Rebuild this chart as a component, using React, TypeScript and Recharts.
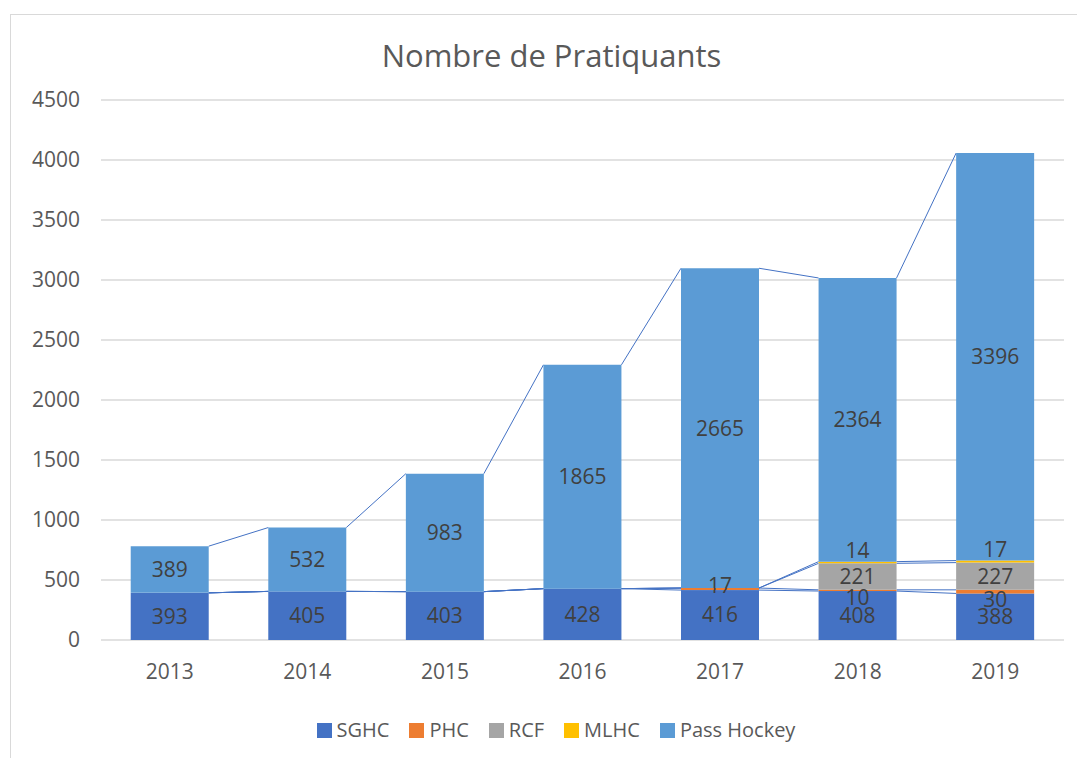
import { BarChart, Bar, XAxis, YAxis, CartesianGrid, LabelList } from 'recharts';

const YEARS = ['2013', '2014', '2015', '2016', '2017', '2018', '2019'];
const SGHC = [393, 405, 403, 428, 416, 408, 388];
const PHC = [0, 0, 0, 0, 17, 10, 30];
const RCF = [0, 0, 0, 0, 0, 221, 227];
const MLHC = [0, 0, 0, 0, 0, 14, 17];
const PASS_HOCKEY = [389, 532, 983, 1865, 2665, 2364, 3396];
const Y_TICKS = [0, 500, 1000, 1500, 2000, 2500, 3000, 3500, 4000, 4500];

const SERIES = [
  { key: 'sghc', name: 'SGHC', color: '#4472c4', values: SGHC },
  { key: 'phc', name: 'PHC', color: '#ed7d31', values: PHC },
  { key: 'rcf', name: 'RCF', color: '#a5a5a5', values: RCF },
  { key: 'mlhc', name: 'MLHC', color: '#ffc000', values: MLHC },
  { key: 'pass', name: 'Pass Hockey', color: '#5b9bd5', values: PASS_HOCKEY },
];

const W = 1077;
const H = 758;
const MARGIN = { top: 100, right: 13, left: 0, bottom: 0 };
const Y_AXIS_W = 101;
const X_AXIS_H = 118;
const PLOT_LEFT = MARGIN.left + Y_AXIS_W;
const BAND = (W - MARGIN.right - PLOT_LEFT) / YEARS.length;
const FONT = '"Open Sans", sans-serif';
const LABEL_SIZE = 21;

const data = YEARS.map((year, i) => {
  const row: Record<string, string | number> = { year };
  SERIES.forEach((s) => (row[s.key] = s.values[i]));
  return row;
});

// cumulative top of series s in column i
const cumTop = (s: number, i: number) =>
  SERIES.slice(0, s + 1).reduce((acc, ser) => acc + ser.values[i], 0);

// bottom segment also draws Excel-style series lines to the next column
function SeriesLinesShape(props: any) {
  const { x, y, width, height, index, fill } = props;
  const ppu = height / SGHC[index];
  const base = y + height;
  const next = index + 1;
  return (
    <g>
      <rect x={x} y={y} width={width} height={height} fill={fill} />
      {next < YEARS.length &&
        SERIES.map((s, si) => (
          <line
            key={s.key}
            x1={x + width}
            y1={base - cumTop(si, index) * ppu}
            x2={x + BAND}
            y2={base - cumTop(si, next) * ppu}
            stroke="#4472c4"
            strokeWidth={1}
          />
        ))}
    </g>
  );
}

// small PHC labels get nudged off the RCF label when one sits right above
function PhcLabel(props: any) {
  const { value } = props;
  const vb = props.viewBox ?? props;
  if (!value) return null;
  const col = Math.floor((vb.x - PLOT_LEFT) / BAND);
  const dy = RCF[col] ? 7 : -4;
  return (
    <text
      x={vb.x + vb.width / 2}
      y={vb.y + vb.height / 2 + dy}
      textAnchor="middle"
      dominantBaseline="central"
      fill="#404040"
      fontSize={LABEL_SIZE}
    >
      {value}
    </text>
  );
}

const hideZero = (v: any) => (v ? v : '');

export default function App() {
  return (
    <div
      style={{
        position: 'absolute',
        left: 0,
        top: 0,
        width: W,
        height: H,
        overflow: 'hidden',
        background: '#fff',
        fontFamily: FONT,
      }}
    >
      <div
        style={{
          position: 'absolute',
          left: 10,
          top: 14,
          width: W,
          height: H,
          borderLeft: '1.5px solid #d9d9d9',
          borderTop: '1.5px solid #d9d9d9',
        }}
      />
      <div
        style={{
          position: 'absolute',
          left: 0,
          width: 1103,
          top: 35,
          lineHeight: '40px',
          textAlign: 'center',
          fontSize: 31,
          color: '#595959',
        }}
      >
        Nombre de Pratiquants
      </div>
      <div style={{ position: 'absolute', left: 0, top: 0 }}>
        <BarChart width={W} height={H} data={data} margin={MARGIN} barCategoryGap="21.6%">
          <CartesianGrid vertical={false} stroke="#d9d9d9" strokeWidth={1.5} />
          <XAxis
            dataKey="year"
            height={X_AXIS_H}
            axisLine={false}
            tickLine={false}
            tickSize={0}
            tickMargin={24}
            tick={{ fill: '#595959', fontSize: LABEL_SIZE }}
          />
          <YAxis
            width={Y_AXIS_W}
            domain={[0, 4500]}
            ticks={Y_TICKS}
            axisLine={false}
            tickLine={false}
            tickSize={0}
            tickMargin={21}
            tick={{ fill: '#595959', fontSize: LABEL_SIZE }}
          />
          {SERIES.map((s, si) => (
            <Bar
              key={s.key}
              dataKey={s.key}
              name={s.name}
              stackId="a"
              fill={s.color}
              isAnimationActive={false}
              shape={si === 0 ? SeriesLinesShape : undefined}
            >
              {s.key === 'phc' ? (
                <LabelList dataKey={s.key} content={PhcLabel} />
              ) : (
                <LabelList
                  dataKey={s.key}
                  position={s.key === 'mlhc' ? 'top' : 'center'}
                  offset={4}
                  fill="#404040"
                  fontSize={LABEL_SIZE}
                  formatter={hideZero}
                />
              )}
            </Bar>
          ))}
        </BarChart>
      </div>
      <div
        style={{
          position: 'absolute',
          left: 0,
          width: 1112,
          top: 716,
          display: 'flex',
          justifyContent: 'center',
          gap: 20,
          fontSize: 20,
          color: '#595959',
          lineHeight: '28px',
        }}
      >
        {SERIES.map((s) => (
          <div key={s.key} style={{ display: 'flex', alignItems: 'center' }}>
            <span
              style={{ width: 15, height: 15, background: s.color, marginRight: 5, display: 'inline-block' }}
            />
            <span>{s.name}</span>
          </div>
        ))}
      </div>
    </div>
  );
}
